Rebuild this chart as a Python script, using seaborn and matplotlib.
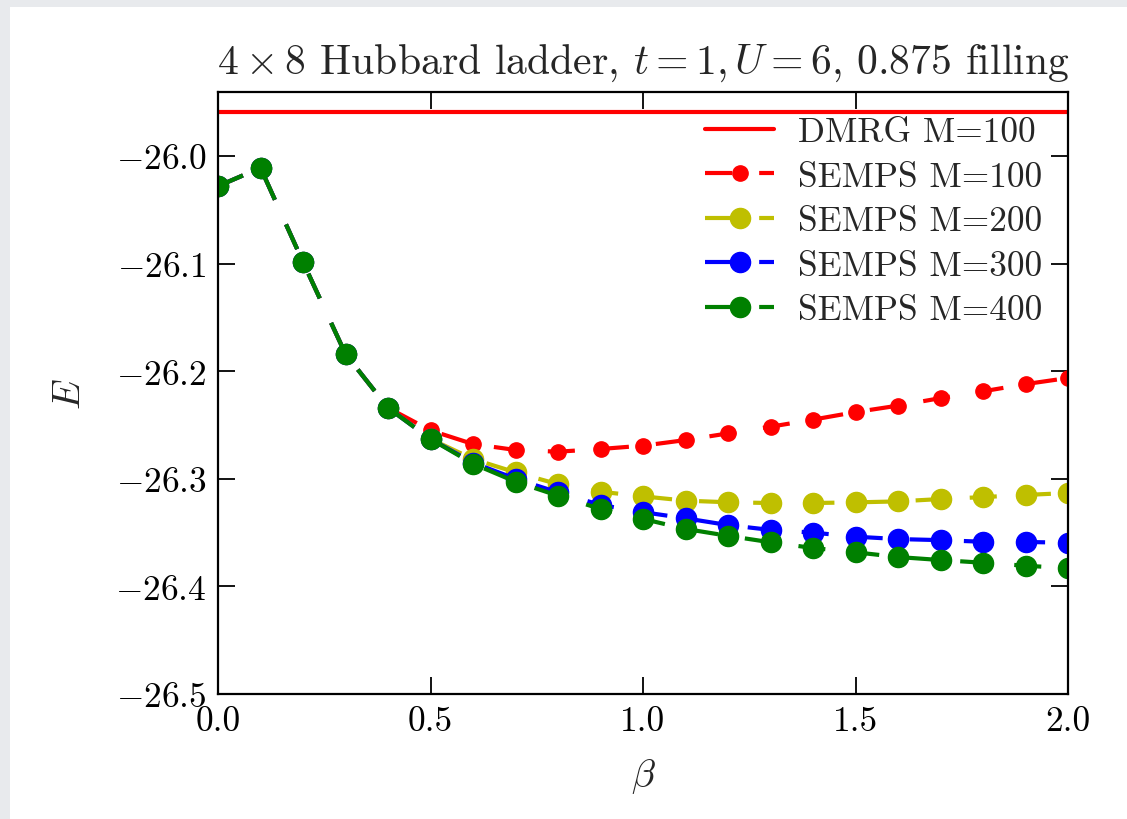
import matplotlib
matplotlib.use("Agg")
import matplotlib.pyplot as plt
from matplotlib.patches import Rectangle
import seaborn as sns
import pandas as pd

beta = [0.0, 0.1, 0.2, 0.3, 0.4, 0.5, 0.6, 0.7, 0.8, 0.9, 1.0,
        1.1, 1.2, 1.3, 1.4, 1.5, 1.6, 1.7, 1.8, 1.9, 2.0]

dmrg_E = -25.959

E_M100 = [-26.028, -26.011, -26.0985, -26.184, -26.234, -26.255, -26.2677, -26.2732,
          -26.2748, -26.2723, -26.2692, -26.264, -26.2578, -26.2516, -26.245, -26.238,
          -26.232, -26.225, -26.2187, -26.212, -26.2063]
E_M200 = [-26.028, -26.011, -26.0985, -26.184, -26.234, -26.263, -26.2816, -26.294,
          -26.305, -26.312, -26.3163, -26.3203, -26.3218, -26.3225, -26.3225, -26.3219,
          -26.321, -26.3188, -26.317, -26.315, -26.3132]
E_M300 = [-26.028, -26.011, -26.0985, -26.184, -26.234, -26.263, -26.285, -26.300,
          -26.3126, -26.3243, -26.331, -26.3367, -26.343, -26.3475, -26.350, -26.3538,
          -26.356, -26.357, -26.3585, -26.3587, -26.3594]
E_M400 = [-26.028, -26.011, -26.0985, -26.184, -26.234, -26.263, -26.286, -26.3027,
          -26.3157, -26.328, -26.3373, -26.3466, -26.353, -26.359, -26.3643, -26.3683,
          -26.3727, -26.3755, -26.378, -26.3808, -26.383]

series_labels = ["SEMPS M=100", "SEMPS M=200", "SEMPS M=300", "SEMPS M=400"]
series_values = [E_M100, E_M200, E_M300, E_M400]
series_colors = ["#ff0000", "#bfbf00", "#0000ff", "#008000"]
marker_sizes = [11, 14.5, 14.5, 14.5]

sns.set_style("ticks")
plt.rcParams.update({
    "font.family": "serif",
    "font.serif": ["cmr10", "DejaVu Serif"],
    "mathtext.fontset": "cm",
    "axes.formatter.use_mathtext": True,
    "lines.dashed_pattern": [6.5, 6.5],
})

fig = plt.figure(figsize=(11.27, 8.2), dpi=100)
fig.patch.set_facecolor("#e8eaed")
fig.add_artist(Rectangle((10 / 1127, 0), 1, 1 - 8 / 820, transform=fig.transFigure,
                         facecolor="white", edgecolor="none", zorder=-10))
ax = fig.add_axes([218 / 1127, 1 - 695 / 820, (1068 - 218) / 1127, (695 - 93) / 820])
ax.set_facecolor("white")

ax.axhline(dmrg_E, color="#ff0000", lw=3, label="DMRG M=100")
for lab, vals, col, ms in zip(series_labels, series_values, series_colors, marker_sizes):
    df = pd.DataFrame({"beta": beta, "E": vals})
    sns.lineplot(data=df, x="beta", y="E", ax=ax, color=col, lw=3, linestyle="--",
                 marker="o", markersize=ms, markeredgecolor=col, markeredgewidth=1,
                 label=lab)

ax.set_xlim(0, 2.0)
ax.set_ylim(-26.5, -25.9405)
ax.set_xticks([0.0, 0.5, 1.0, 1.5, 2.0])
ax.set_yticks([-26.5, -26.4, -26.3, -26.2, -26.1, -26.0])
ax.set_xticklabels(["0.0", "0.5", "1.0", "1.5", "2.0"])
ax.set_yticklabels([r"$-26.5$", r"$-26.4$", r"$-26.3$", r"$-26.2$", r"$-26.1$", r"$-26.0$"])
ax.tick_params(direction="in", length=12, width=1.3, labelsize=25.5, pad=8,
               top=True, right=True, colors="black")
for s in ax.spines.values():
    s.set_visible(True)
    s.set_linewidth(1.6)
    s.set_color("black")

ax.set_xlabel(r"$\beta$", fontsize=28, labelpad=14)
ax.set_ylabel(r"$E$", fontsize=28, labelpad=20)
ax.set_title(r"$4\times 8$ Hubbard ladder, $t=1, U=6$, 0.875 filling", fontsize=30, pad=14)

ax.legend(loc="upper right", frameon=False, fontsize=25.5, handlelength=1.95,
          handletextpad=0.65, labelspacing=0.36, borderaxespad=0.2,
          bbox_to_anchor=(1.0 - 5 / 850, 1.0 - 3 / 602))

fig.savefig("out.png", dpi=100, facecolor=fig.get_facecolor())
